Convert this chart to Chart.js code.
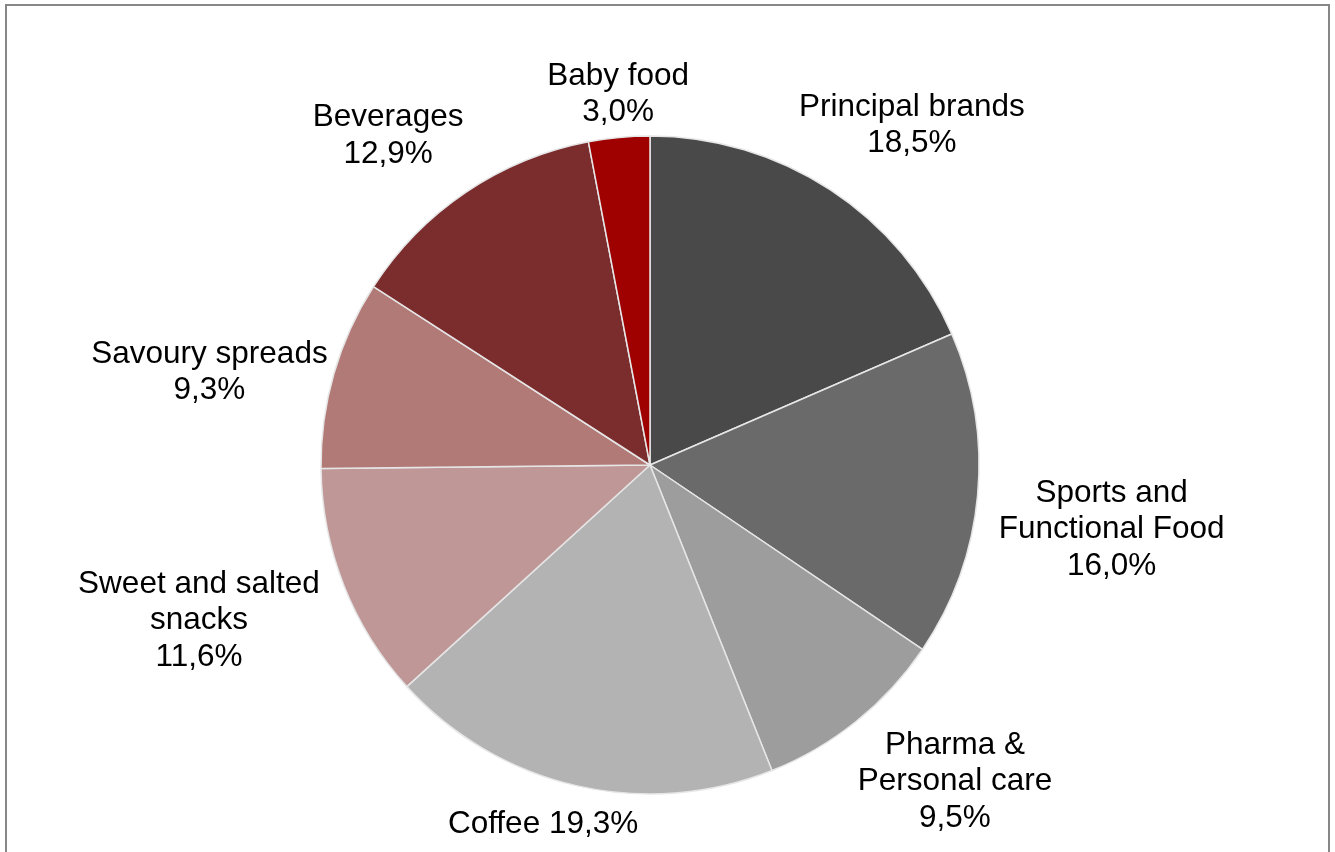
<!DOCTYPE html>
<html>
<head>
<meta charset="utf-8">
<script src="https://cdn.jsdelivr.net/npm/chart.js@4/dist/chart.umd.min.js"></script>
<style>
  html, body { margin: 0; padding: 0; background: #fff; }
  #wrap { width: 1335px; height: 852px; position: relative; }
</style>
</head>
<body>
<div id="wrap"><canvas id="c" width="1335" height="852"></canvas></div>
<script>
// ---- data ----
const categories = [
  "Principal brands",
  "Sports and Functional Food",
  "Pharma & Personal care",
  "Coffee",
  "Sweet and salted snacks",
  "Savoury spreads",
  "Beverages",
  "Baby food"
];
const shares = [18.5, 16.0, 9.5, 19.3, 11.6, 9.3, 12.9, 3.0];
const labelLines = [
  ["Principal brands"],
  ["Sports and", "Functional Food"],
  ["Pharma &", "Personal care"],
  ["Coffee"],
  ["Sweet and salted", "snacks"],
  ["Savoury spreads"],
  ["Beverages"],
  ["Baby food"]
];
const percentInline = [false, false, false, true, false, false, false, false];
const sliceColors = ["#494949", "#6a6a6a", "#9d9d9d", "#b3b3b3", "#c09797", "#b27a77", "#7b2c2d", "#9f0000"];

// label block centres, relative to pie centre, in units of the radius
const labelOffsets = [
  [0.796, -1.040],
  [1.403, 0.188],
  [0.927, 0.954],
  [-0.325, 1.085],
  [-1.371, 0.465],
  [-1.339, -0.289],
  [-0.796, -1.009],
  [-0.097, -1.134]
];

const FONT_SIZE = 31.5;
const LINE_H = 36.5;
const FONT = FONT_SIZE + 'px "Liberation Sans", Arial, sans-serif';

const fmt = v => v.toFixed(1).replace('.', ',') + '%';

const framePlugin = {
  id: 'frame',
  beforeDraw(chart) {
    const ctx = chart.ctx;
    ctx.save();
    ctx.fillStyle = '#fff';
    ctx.fillRect(0, 0, chart.width, chart.height);
    ctx.strokeStyle = '#878787';
    ctx.lineWidth = 2;
    ctx.beginPath();
    ctx.moveTo(6, chart.height);
    ctx.lineTo(6, 5);
    ctx.lineTo(1329, 5);
    ctx.lineTo(1329, chart.height);
    ctx.stroke();
    ctx.restore();
  }
};

const labelPlugin = {
  id: 'sliceLabels',
  afterDatasetsDraw(chart) {
    const meta = chart.getDatasetMeta(0);
    const ctx = chart.ctx;
    ctx.save();
    ctx.font = FONT;
    ctx.fillStyle = '#000';
    ctx.textAlign = 'center';
    ctx.textBaseline = 'alphabetic';
    meta.data.forEach((arc, i) => {
      const props = arc.getProps(['x', 'y', 'outerRadius'], true);
      const v = chart.data.datasets[0].data[i];
      let lines = labelLines[i].slice();
      if (percentInline[i]) {
        lines[lines.length - 1] = lines[lines.length - 1] + ' ' + fmt(v);
      } else {
        lines.push(fmt(v));
      }
      const cx = props.x + labelOffsets[i][0] * props.outerRadius;
      const cy = props.y + labelOffsets[i][1] * props.outerRadius;
      const n = lines.length;
      lines.forEach((t, k) => {
        const lc = cy + (k - (n - 1) / 2) * LINE_H;
        ctx.fillText(t, cx, lc + 0.358 * FONT_SIZE);
      });
    });
    ctx.restore();
  }
};

new Chart(document.getElementById('c'), {
  type: 'pie',
  data: {
    labels: categories,
    datasets: [{
      data: shares,
      backgroundColor: sliceColors,
      borderColor: '#e6e6e6',
      borderWidth: 1.5,
      radius: 329
    }]
  },
  options: {
    responsive: false,
    animation: false,
    layout: { padding: { top: 78, right: 35, left: 0, bottom: 0 } },
    plugins: {
      legend: { display: false },
      tooltip: { enabled: false }
    }
  },
  plugins: [framePlugin, labelPlugin]
});
</script>
</body>
</html>
